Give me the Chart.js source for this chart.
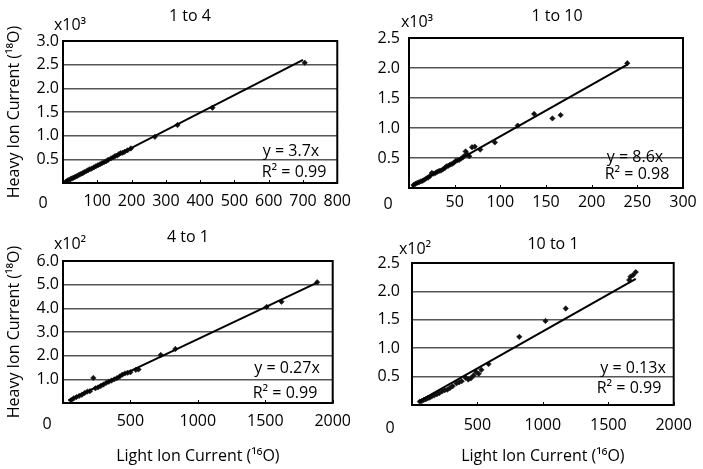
<!DOCTYPE html>
<html>
<head>
<meta charset="utf-8">
<script src="https://cdn.jsdelivr.net/npm/chart.js@4"></script>
<style>
  body { margin: 0; background: #fff; }
  #page { position: relative; width: 703px; height: 469px; overflow: hidden; font-family: 'Open Sans', sans-serif; color: #000; }
  .box { position: absolute; }
  .lab { position: absolute; transform: translate(-50%, -50%); white-space: nowrap; line-height: 1; }
  .t { font-size: 16px; }
  .m { font-size: 16px; }
  .eq { font-size: 16px; }
</style>
</head>
<body>
<div id="page">
  <div class="box" style="left:0;top:0;width:360px;height:230px"><canvas id="c1" width="360" height="230"></canvas></div>
  <div class="box" style="left:352px;top:0;width:351px;height:230px"><canvas id="c2" width="351" height="230"></canvas></div>
  <div class="box" style="left:0;top:230px;width:360px;height:239px"><canvas id="c3" width="360" height="239"></canvas></div>
  <div class="box" style="left:352px;top:230px;width:351px;height:239px"><canvas id="c4" width="351" height="239"></canvas></div>

  <div class="lab t" style="left:190px;top:15px">1 to 4</div>
  <div class="lab t" style="left:557px;top:15px">1 to 10</div>
  <div class="lab t" style="left:188px;top:236px">4 to 1</div>
  <div class="lab t" style="left:553px;top:243px">10 to 1</div>

  <div class="lab m" style="left:70px;top:24px">x10³</div>
  <div class="lab m" style="left:417px;top:21px">x10³</div>
  <div class="lab m" style="left:70px;top:243px">x10²</div>
  <div class="lab m" style="left:415px;top:248px">x10²</div>

  <div class="lab m" style="left:43px;top:202px">0</div>
  <div class="lab m" style="left:388px;top:203px">0</div>
  <div class="lab m" style="left:47px;top:423px">0</div>
  <div class="lab m" style="left:390px;top:427px">0</div>

  <div class="lab eq" style="left:291px;top:150px">y = 3.7x</div>
  <div class="lab eq" style="left:294px;top:171px">R² = 0.99</div>
  <div class="lab eq" style="left:635px;top:156px">y = 8.6x</div>
  <div class="lab eq" style="left:637px;top:173px">R² = 0.98</div>
  <div class="lab eq" style="left:287px;top:367px">y = 0.27x</div>
  <div class="lab eq" style="left:285px;top:392px">R² = 0.99</div>
  <div class="lab eq" style="left:633px;top:367px">y = 0.13x</div>
  <div class="lab eq" style="left:629px;top:387px">R² = 0.99</div>
</div>
<script>
// 1 to 4
var x1 = [8, 12, 15, 19, 22, 26, 30, 34, 38, 42, 47, 52, 57, 62, 68, 73, 78, 84, 90, 96, 102, 108, 114, 120, 126, 132, 140, 146, 152, 158, 163, 168, 174, 180, 188, 198, 268, 334, 436, 705];
var y1 = [25, 40, 60, 65, 85, 95, 110, 120, 140, 150, 175, 190, 205, 230, 250, 270, 290, 305, 330, 355, 375, 395, 420, 440, 460, 490, 520, 540, 570, 580, 610, 630, 640, 660, 690, 730, 975, 1225, 1590, 2540];
var trend1 = [[0, 0], [700, 2600]];

// 1 to 10
var x2 = [5, 7, 9, 11, 13, 15, 17, 19, 21, 23, 25, 27, 29, 31, 33, 35, 37, 39, 41, 43, 45, 47, 49, 51, 53, 55, 57, 59, 61, 62, 64, 66, 69, 72, 78, 94, 119, 137, 157, 166, 239];
var y2 = [50, 70, 85, 95, 110, 120, 140, 160, 175, 200, 250, 240, 250, 270, 285, 290, 310, 330, 360, 370, 390, 400, 420, 450, 460, 470, 490, 510, 540, 610, 560, 530, 680, 690, 640, 760, 1040, 1235, 1160, 1215, 2080];
var trend2 = [[3, 26], [239, 2055]];

// 4 to 1
var x3 = [60, 80, 100, 120, 140, 160, 180, 200, 225, 240, 260, 280, 300, 320, 340, 360, 380, 400, 420, 440, 460, 480, 500, 540, 560, 725, 833, 1510, 1620, 1885];
var y3 = [12, 20, 25, 30, 35, 42, 48, 50, 106, 62, 66, 72, 78, 85, 90, 95, 100, 105, 112, 120, 125, 128, 130, 140, 142, 203, 228, 406, 428, 510];
var trend3 = [[40, 11], [1885, 509]];

// 10 to 1
var x4 = [60, 75, 90, 105, 120, 135, 150, 170, 190, 210, 230, 250, 270, 290, 310, 340, 360, 380, 410, 430, 450, 470, 490, 510, 530, 585, 820, 1020, 1175, 1660, 1670, 1690, 1710];
var y4 = [6, 7, 9, 10, 12, 13, 15, 17, 19, 21, 24, 26, 27, 30, 33, 38, 40, 42, 48, 45, 47, 52, 58, 55, 62, 72, 120, 148, 170, 220, 226, 229, 234];
var trend4 = [[50, 6], [1710, 222]];

var yTitle = 'Heavy Ion Current (¹⁸O)';
var xTitle = 'Light Ion Current (¹⁶O)';
var FONT = "'Open Sans', sans-serif";

var framePlugin = {
  id: 'frame',
  afterDraw: function (chart) {
    var a = chart.chartArea, ctx = chart.ctx, xs = chart.scales.x;
    ctx.save();
    ctx.strokeStyle = '#000';
    ctx.lineWidth = 1;
    xs.ticks.forEach(function (t) {
      var px = Math.round(xs.getPixelForValue(t.value)) + 0.5;
      ctx.beginPath();
      ctx.moveTo(px, a.bottom);
      ctx.lineTo(px, a.bottom - 3);
      ctx.stroke();
    });
    ctx.lineWidth = 2;
    ctx.strokeRect(a.left, a.top, a.right - a.left, a.bottom - a.top);
    ctx.restore();
  }
};

function pts(xs, ys) {
  return xs.map(function (x, i) { return { x: x, y: ys[i] }; });
}

function makePanel(id, p) {
  var ctx = document.getElementById(id).getContext('2d');
  return new Chart(ctx, {
    type: 'scatter',
    data: {
      datasets: [{
        type: 'line',
        data: p.trend.map(function (d) { return { x: d[0], y: d[1] }; }),
        borderColor: '#000',
        borderWidth: 2,
        pointRadius: 0,
        fill: false
      }, {
        data: pts(p.x, p.y),
        backgroundColor: '#111',
        borderColor: '#111',
        pointStyle: 'rectRot',
        pointRadius: 2.7,
        borderWidth: 0.6
      }]
    },
    options: {
      responsive: false,
      animation: false,
      layout: { padding: { top: p.padTop, right: p.padRight, left: 0, bottom: 0 } },
      plugins: { legend: { display: false }, tooltip: { enabled: false } },
      scales: {
        x: {
          type: 'linear',
          min: 0,
          max: p.xMax,
          afterFit: function (s) { s.height = p.xH; },
          grid: { display: false, drawTicks: false },
          border: { display: false },
          ticks: {
            stepSize: p.xStep,
            padding: p.xPad,
            maxRotation: 0,
            color: '#000',
            font: { family: FONT, size: 16 },
            callback: function (v) { return v === 0 ? '' : v; }
          },
          title: {
            display: p.showX,
            text: xTitle,
            color: '#000',
            font: { family: FONT, size: 16 },
            padding: { top: 0, bottom: 3 }
          }
        },
        y: {
          min: 0,
          max: p.yMax,
          afterFit: function (s) { s.width = p.yW; },
          grid: { color: '#555', lineWidth: 1.5, drawTicks: false },
          border: { display: false },
          ticks: {
            stepSize: p.yStep,
            padding: p.yPad,
            color: '#000',
            font: { family: FONT, size: 16 },
            callback: function (v) { return v === 0 ? '' : (v / p.mult).toFixed(1); }
          },
          title: {
            display: p.showY,
            text: yTitle,
            color: '#000',
            font: { family: FONT, size: 16 },
            padding: { top: 5, bottom: 0 }
          }
        }
      }
    },
    plugins: [framePlugin]
  });
}

makePanel('c1', { x: x1, y: y1, trend: trend1, xMax: 800, xStep: 100, yMax: 3000, yStep: 500, mult: 1000,
  padTop: 41, padRight: 21, yW: 63, xH: 47, xPad: 9, yPad: 4, showX: false, showY: true });
makePanel('c2', { x: x2, y: y2, trend: trend2, xMax: 300, xStep: 50, yMax: 2500, yStep: 500, mult: 1000,
  padTop: 38, padRight: 20, yW: 57, xH: 42, xPad: 5, yPad: 9, showX: false, showY: false });
makePanel('c3', { x: x3, y: y3, trend: trend3, xMax: 2000, xStep: 500, yMax: 600, yStep: 100, mult: 100,
  padTop: 31, padRight: 21, yW: 63, xH: 66, xPad: 9, yPad: 4, showX: true, showY: true });
makePanel('c4', { x: x4, y: y4, trend: trend4, xMax: 2000, xStep: 500, yMax: 250, yStep: 50, mult: 100,
  padTop: 33, padRight: 20, yW: 60, xH: 64, xPad: 11, yPad: 12, showX: true, showY: false });
</script>
</body>
</html>
